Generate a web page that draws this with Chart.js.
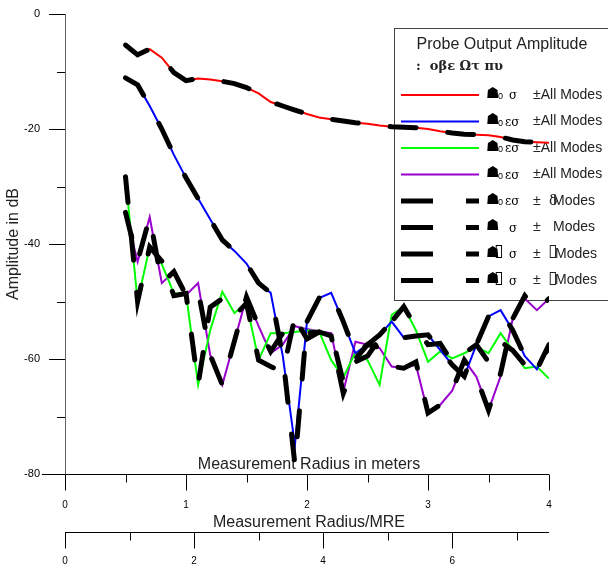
<!DOCTYPE html>
<html><head><meta charset="utf-8">
<script src="https://cdn.jsdelivr.net/npm/chart.js@4.4.1/dist/chart.umd.min.js"></script>
<style>html,body{margin:0;padding:0;background:#fff}</style>
</head><body>
<canvas id="c" width="608" height="568"></canvas>
<script>
// ---- data ----
const radius = [0.5,0.6,0.7,0.8,0.9,1.0,1.1,1.2,1.3,1.4,1.5,1.6,1.7,1.8,1.9,2.0,2.1,2.2,2.3,2.4,2.5,2.6,2.7,2.8,2.9,3.0,3.1,3.2,3.3,3.4,3.5,3.6,3.7,3.8,3.9,4.0];
const red    = [-5.4,-7.1,-6.1,-7.6,-10.2,-11.6,-11.2,-11.4,-11.7,-12.1,-12.8,-13.8,-15.3,-16.0,-16.7,-17.4,-18.0,-18.3,-18.6,-18.9,-19.1,-19.4,-19.6,-19.7,-19.8,-20.0,-20.4,-20.7,-20.9,-21.0,-21.1,-21.4,-21.9,-22.2,-22.3,-22.4];
const blue   = [-11.1,-12.3,-16.0,-20.0,-24.5,-28.5,-32.1,-35.7,-39.3,-41.2,-43.4,-46.8,-48.5,-59.5,-75.0,-53.5,-49.4,-48.5,-53.5,-59.0,-57.5,-55.8,-53.5,-56.3,-56.0,-55.8,-58.4,-61.0,-63.0,-57.5,-52.6,-51.5,-55.0,-59.5,-61.8,-57.5];
const green  = [-28.3,-50.0,-40.5,-43.5,-48.6,-48.6,-64.5,-55.0,-48.3,-52.0,-50.3,-60.2,-55.5,-55.5,-55.3,-55.0,-55.2,-60.2,-63.2,-58.8,-60.2,-64.5,-52.3,-50.9,-55.0,-60.5,-58.7,-59.9,-59.0,-57.9,-59.0,-55.5,-58.5,-61.6,-61.3,-63.4];
const purple = [-34.5,-43.1,-35.3,-46.8,-44.8,-48.9,-46.8,-59.3,-64.5,-56.9,-49.2,-54.3,-59.0,-57.5,-54.3,-54.8,-55.2,-55.5,-65.7,-57.0,-57.5,-58.1,-61.3,-61.6,-61.0,-69.4,-68.0,-65.5,-60.2,-63.1,-68.9,-63.0,-53.0,-49.5,-51.5,-49.5];
const dash1  = [-5.4,-7.1,-6.1,-7.6,-10.2,-11.6,-11.2,-11.4,-11.7,-12.1,-12.8,-13.8,-15.3,-16.0,-16.7,-17.4,-18.0,-18.3,-18.6,-18.9,-19.1,-19.4,-19.6,-19.7,-19.8,-20.0,-20.4,-20.7,-20.9,-21.0,-21.1,-21.4,-21.9,-22.2,-22.3,-22.4];
const dash2  = [-11.1,-12.3,-16.0,-20.0,-24.5,-28.5,-32.1,-35.7,-39.3,-41.2,-43.4,-46.8,-48.5,-59.5,-78.3,-53.5,-49.4,-48.5,-53.5,-59.0,-57.5,-55.8,-53.5,-56.3,-56.0,-55.8,-58.4,-61.0,-63.0,-57.5,-52.6,-51.5,-55.0,-59.5,-61.8,-57.5];
const dash3  = [-28.3,-50.0,-40.5,-43.0,-49.0,-48.6,-64.5,-51.0,-49.5,-52.5,-50.3,-60.2,-61.3,-62.3,-52.7,-55.5,-55.3,-56.0,-66.0,-60.5,-59.5,-56.5,-53.5,-50.9,-54.5,-57.5,-57.3,-60.5,-59.0,-57.5,-60.5,-57.0,-58.5,-61.0,-61.3,-58.0];
const dash4  = [-34.5,-43.0,-35.3,-46.8,-44.8,-48.9,-48.0,-59.3,-64.5,-56.9,-49.2,-54.3,-58.7,-55.5,-53.0,-56.5,-55.3,-55.5,-64.0,-60.0,-57.5,-58.0,-61.3,-61.6,-60.5,-69.4,-68.0,-65.5,-60.2,-63.1,-68.9,-62.5,-53.0,-49.0,-51.5,-49.5];

const yTicks = [0,-20,-40,-60,-80];
const xTicks = [0,1,2,3,4];
const x2Ticks = [0,2,4,6];

const legendTitle = "Probe Output Amplitude";
const legendSub = ":  οβε Ωτ πυ";
const xTitle = "Measurement Radius in meters";
const x2Title = "Measurement Radius/MRE";
const yTitle = "Amplitude in dB";

const FONT = "'Liberation Sans', Arial, sans-serif";
const SERIF = "'DejaVu Serif', 'Liberation Serif', serif";

function pts(arr){ return arr.map((v,i)=>({x:radius[i], y:v})); }

const solid = (label, data, color) => ({label, data: pts(data), borderColor: color, borderWidth: 2, pointRadius: 0, fill:false, tension:0, order: 2});
const dashed = (label, data) => ({label, data: pts(data), borderColor: '#000', borderWidth: 5, borderDash:[26,32], borderCapStyle:'round', pointRadius:0, fill:false, tension:0, order: 1});

const datasets = [
  solid('red', red, '#ff0000'),
  solid('blue', blue, '#0000ff'),
  solid('green', green, '#00ff00'),
  solid('purple', purple, '#9900cc'),
  dashed('d1', dash1),
  dashed('d2', dash2),
  dashed('d3', dash3),
  dashed('d4', dash4)
];

const legendRows = [
  {color:'#ff0000', dash:false, sub:'0', eps:false},
  {color:'#0000ff', dash:false, sub:'0', eps:true},
  {color:'#00ff00', dash:false, sub:'0', eps:true},
  {color:'#9900cc', dash:false, sub:'0', eps:true},
  {color:'#000', dash:true, sub:'0', eps:true},
  {color:'#000', dash:true, sub:'', eps:false},
  {color:'#000', dash:true, sub:'▯', eps:false},
  {color:'#000', dash:true, sub:'▯', eps:false}
];

const decor = {
  id: 'decor',
  beforeDatasetsDraw(chart){
    const ctx = chart.ctx;
    const xs = chart.scales.x, ys = chart.scales.y, x2 = chart.scales.x2;
    const ca = chart.chartArea;
    ctx.save();
    ctx.lineWidth = 1;
    // y axis line
    ctx.strokeStyle = '#666';
    ctx.beginPath(); ctx.moveTo(65.5, ca.top); ctx.lineTo(65.5, ca.bottom + 16); ctx.stroke();
    ctx.strokeStyle = '#000';
    // y ticks
    for (let v = 0; v >= -80; v -= 10) {
      const p = Math.round(ys.getPixelForValue(v)) + 0.5;
      const len = (v % 20 === 0) ? 16 : 8;
      ctx.beginPath(); ctx.moveTo(65 - len, p); ctx.lineTo(65, p); ctx.stroke();
    }
    // x axis line
    const xb = Math.round(ca.bottom) + 0.5;
    ctx.beginPath(); ctx.moveTo(42, xb); ctx.lineTo(ca.right, xb); ctx.stroke();
    for (let v = 0; v <= 4.001; v += 0.5) {
      const p = Math.round(xs.getPixelForValue(v)) + 0.5;
      const len = (Math.abs(v - Math.round(v)) < 1e-6) ? 16 : 8;
      ctx.beginPath(); ctx.moveTo(p, xb); ctx.lineTo(p, xb + len); ctx.stroke();
    }
    // x2 axis
    const x2b = 532.5;
    ctx.beginPath(); ctx.moveTo(ca.left, x2b); ctx.lineTo(ca.right, x2b); ctx.stroke();
    for (let v = 0; v <= 7; v += 1) {
      const p = Math.round(x2.getPixelForValue(v)) + 0.5;
      const len = (v % 2 === 0) ? 16 : 8;
      ctx.beginPath(); ctx.moveTo(p, x2b); ctx.lineTo(p, x2b + len); ctx.stroke();
    }
    // titles
    ctx.fillStyle = '#222';
    ctx.font = '16px ' + FONT;
    ctx.textAlign = 'center'; ctx.textBaseline = 'middle';
    const cx = (ca.left + ca.right) / 2;
    ctx.fillText(xTitle, cx + 2, 465);
    ctx.fillText(x2Title, cx + 2, 523);
    ctx.save();
    ctx.translate(14, 244); ctx.rotate(-Math.PI/2);
    ctx.fillText(yTitle, 0, 0);
    ctx.restore();

    // legend box (under the lines)
    ctx.fillStyle = '#fff';
    ctx.fillRect(394.5, 28.5, 230, 272);
    ctx.strokeStyle = '#444';
    ctx.strokeRect(394.5, 28.5, 230, 272);
    ctx.fillStyle = '#222';
    ctx.font = '16px ' + FONT;
    ctx.textAlign = 'center';
    ctx.fillText(legendTitle, 502, 45);
    ctx.textAlign = 'left';
    ctx.font = 'bold 13px ' + SERIF;
    ctx.fillText(legendSub, 416, 67);
    const rowY = [95, 121.5, 148, 174.5, 201, 227.5, 254, 280.5];
    legendRows.forEach((r, i) => {
      const y = rowY[i];
      ctx.strokeStyle = r.color;
      if (r.dash) {
        ctx.lineWidth = 5; ctx.lineCap = 'butt';
        ctx.setLineDash([32, 33]);
      } else {
        ctx.lineWidth = 2; ctx.setLineDash([]);
      }
      ctx.beginPath(); ctx.moveTo(401, y); ctx.lineTo(479, y); ctx.stroke();
      ctx.setLineDash([]);
      ctx.fillStyle = '#000';
      ctx.font = '15px DejaVu Sans';
      ctx.fillText('☗', 486, y - 1);
      if (r.sub === '0') { ctx.font = '9px ' + FONT; ctx.fillText('0', 498, y + 2); }
      else if (r.sub === '▯') { ctx.font = 'bold 17px DejaVu Sans'; ctx.fillText('▯', 494, y - 2); }
      ctx.font = '12px ' + SERIF;
      ctx.fillText(r.eps ? 'εσ' : 'σ', r.eps ? 505 : 509, y + 1);
      ctx.font = '14px ' + FONT;
      ctx.fillStyle = '#222';
      if (i < 4) {
        ctx.fillText('±All Modes', 533, y);
      } else {
        ctx.fillText('±', 533, y);
        if (i === 4) { ctx.font = '14px ' + SERIF; ctx.fillText('δ', 549, y); ctx.font = '14px ' + FONT; ctx.fillText('Modes', 553, y); }
        else if (i === 5) { ctx.fillText('Modes', 553, y); }
        else { ctx.font = 'bold 17px DejaVu Sans'; ctx.fillText('▯', 548, y - 2); ctx.font = '14px ' + FONT; ctx.fillText('Modes', 555, y); }
      }
    });
    ctx.restore();
  }
};

new Chart(document.getElementById('c'), {
  type: 'line',
  data: { datasets },
  options: {
    responsive: false,
    animation: false,
    devicePixelRatio: 1,
    layout: { padding: { left: 0, right: 59, top: 14, bottom: 0 } },
    plugins: { legend: { display: false }, tooltip: { enabled: false } },
    scales: {
      x: {
        type: 'linear', position: 'bottom', min: 0, max: 4,
        grid: { display: false, drawTicks: false, tickLength: 0 },
        border: { display: false },
        ticks: { stepSize: 1, autoSkip: false, maxRotation: 0, padding: 25, color: '#000',
                 font: { family: FONT, size: 10 },
                 callback: v => xTicks.includes(v) ? String(v) : '' },
        afterFit: s => { s.height = 48; s.paddingLeft = 0; s.paddingRight = 0; }
      },
      x2: {
        type: 'linear', position: 'bottom', min: 0, max: 7.5,
        grid: { display: false, drawTicks: false, tickLength: 0 },
        border: { display: false },
        ticks: { stepSize: 2, autoSkip: false, maxRotation: 0, padding: 33, color: '#000',
                 font: { family: FONT, size: 10 },
                 callback: v => x2Ticks.includes(v) ? String(v) : '' },
        afterFit: s => { s.height = 46; s.paddingLeft = 0; s.paddingRight = 0; }
      },
      y: {
        type: 'linear', position: 'left', min: -80, max: 0,
        grid: { display: false, drawTicks: false, tickLength: 0 },
        border: { display: false },
        ticks: { stepSize: 20, autoSkip: false, padding: 25, color: '#000',
                 font: { family: FONT, size: 11 },
                 callback: v => yTicks.includes(v) ? String(v) : '' },
        afterFit: s => { s.width = 65; s.paddingTop = 0; s.paddingBottom = 0; }
      }
    }
  },
  plugins: [decor]
});
</script>
</body></html>
